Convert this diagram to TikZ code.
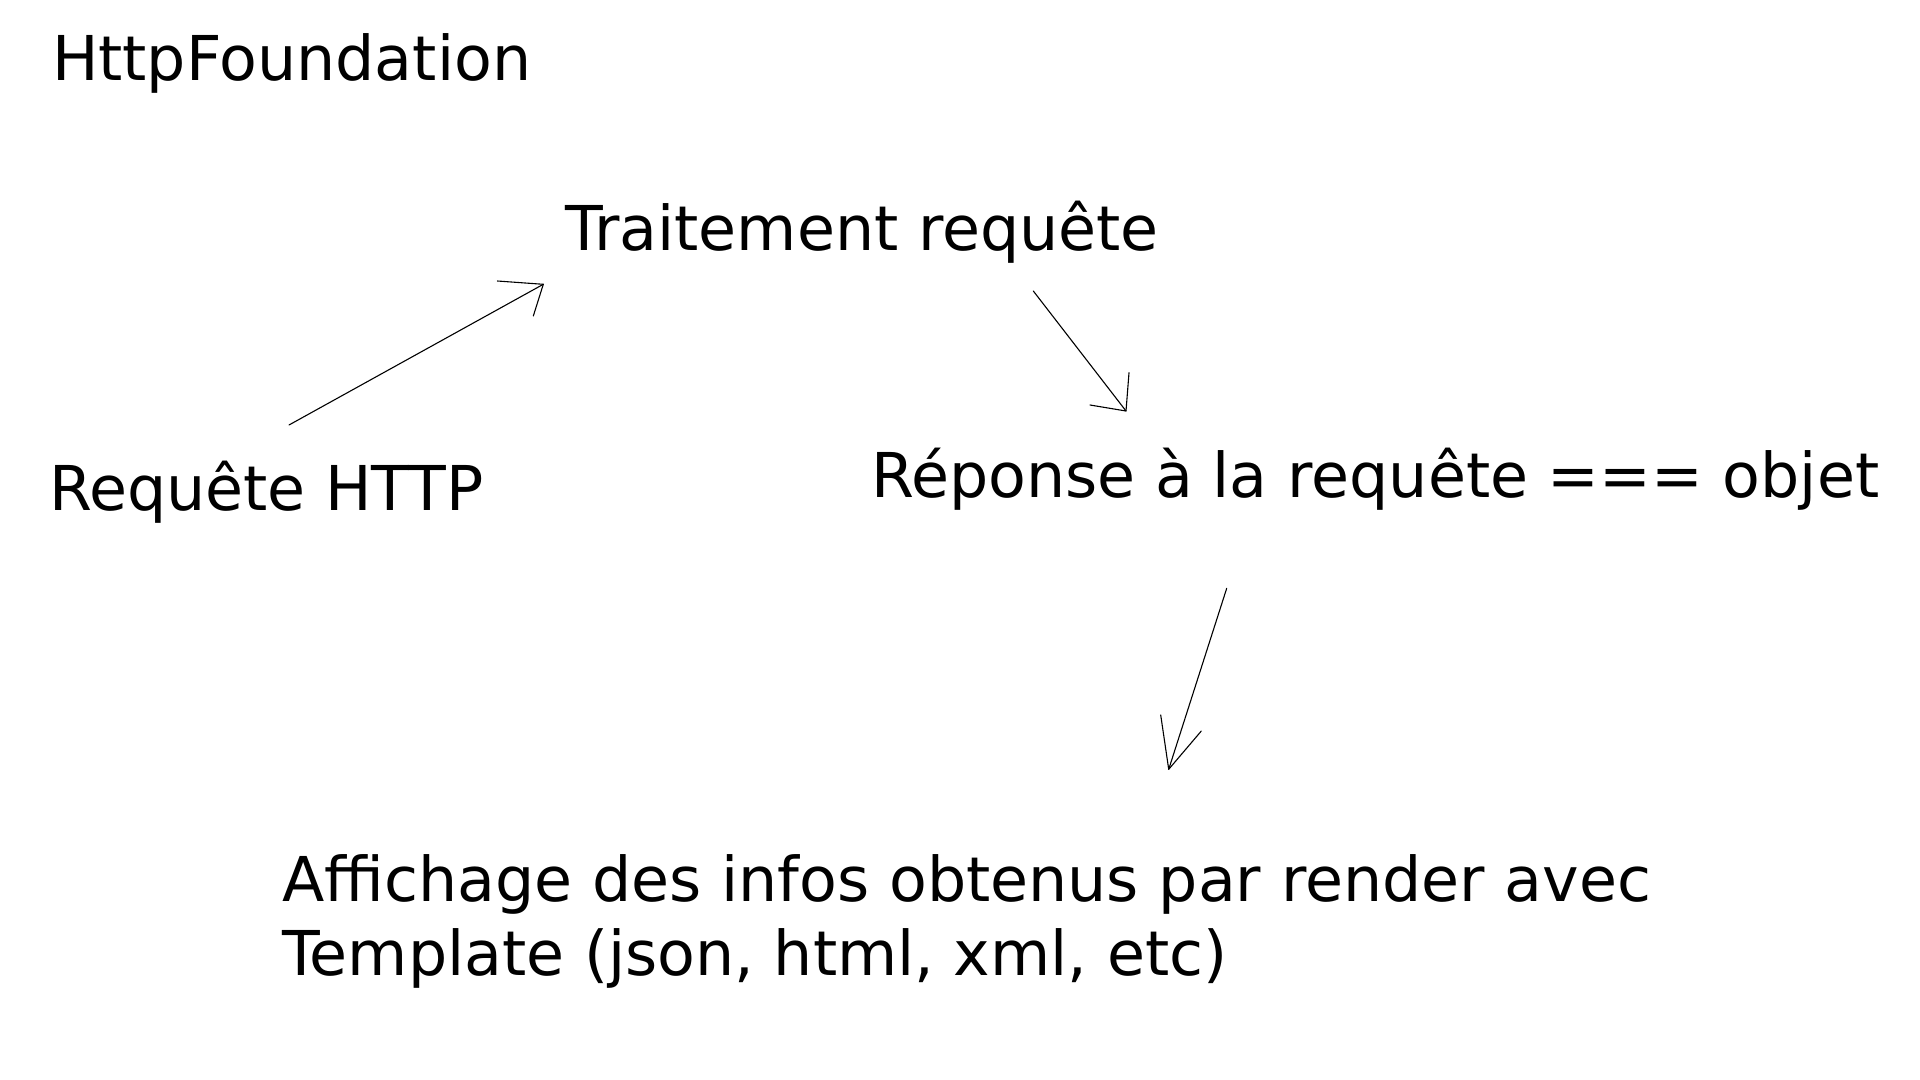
\documentclass[tikz,border=0pt]{standalone}
\usepackage{fontspec}
\setmainfont{DejaVu Sans}
\begin{document}
\begin{tikzpicture}[x=0.5pt,y=-0.5pt,
  label/.style={anchor=base west,inner sep=0pt,outer sep=0pt,font=\fontsize{30.9}{37}\selectfont},
  conn/.style={draw=black,line width=0.55pt,line cap=round,line join=round}]
\useasboundingbox[fill=white] (0,0) rectangle (1920,1080);
\node[label] (title) at (52,81) {HttpFoundation};
\node[label] (trait) at (565.5,251) {Traitement requête};
\node[label] (req) at (49,510) {Requête HTTP};
\node[label] (rep) at (871,497.6) {Réponse à la requête === objet};
\node[label,align=left] (aff) at (282.5,975) {Affichage des infos obtenus par render avec\\Template (json, html, xml, etc)};
% connector end points
\coordinate (a1s) at (289,425);
\coordinate (a1t) at (543.3,284.3);
\coordinate (a1h1) at (497.3,281);
\coordinate (a1h2) at (533.3,316);
\coordinate (a2s) at (1033.3,291);
\coordinate (a2t) at (1126,411);
\coordinate (a2h1) at (1090,405);
\coordinate (a2h2) at (1129,372.7);
\coordinate (a3s) at (1226.7,588.3);
\coordinate (a3t) at (1168.7,769.3);
\coordinate (a3h1) at (1160.7,715);
\coordinate (a3h2) at (1201.3,731);
\draw[conn] (a1s) -- (a1t);
\draw[conn] (a1h1) -- (a1t) -- (a1h2);
\draw[conn] (a2s) -- (a2t);
\draw[conn] (a2h1) -- (a2t) -- (a2h2);
\draw[conn] (a3s) -- (a3t);
\draw[conn] (a3h1) -- (a3t) -- (a3h2);
\end{tikzpicture}
\end{document}
